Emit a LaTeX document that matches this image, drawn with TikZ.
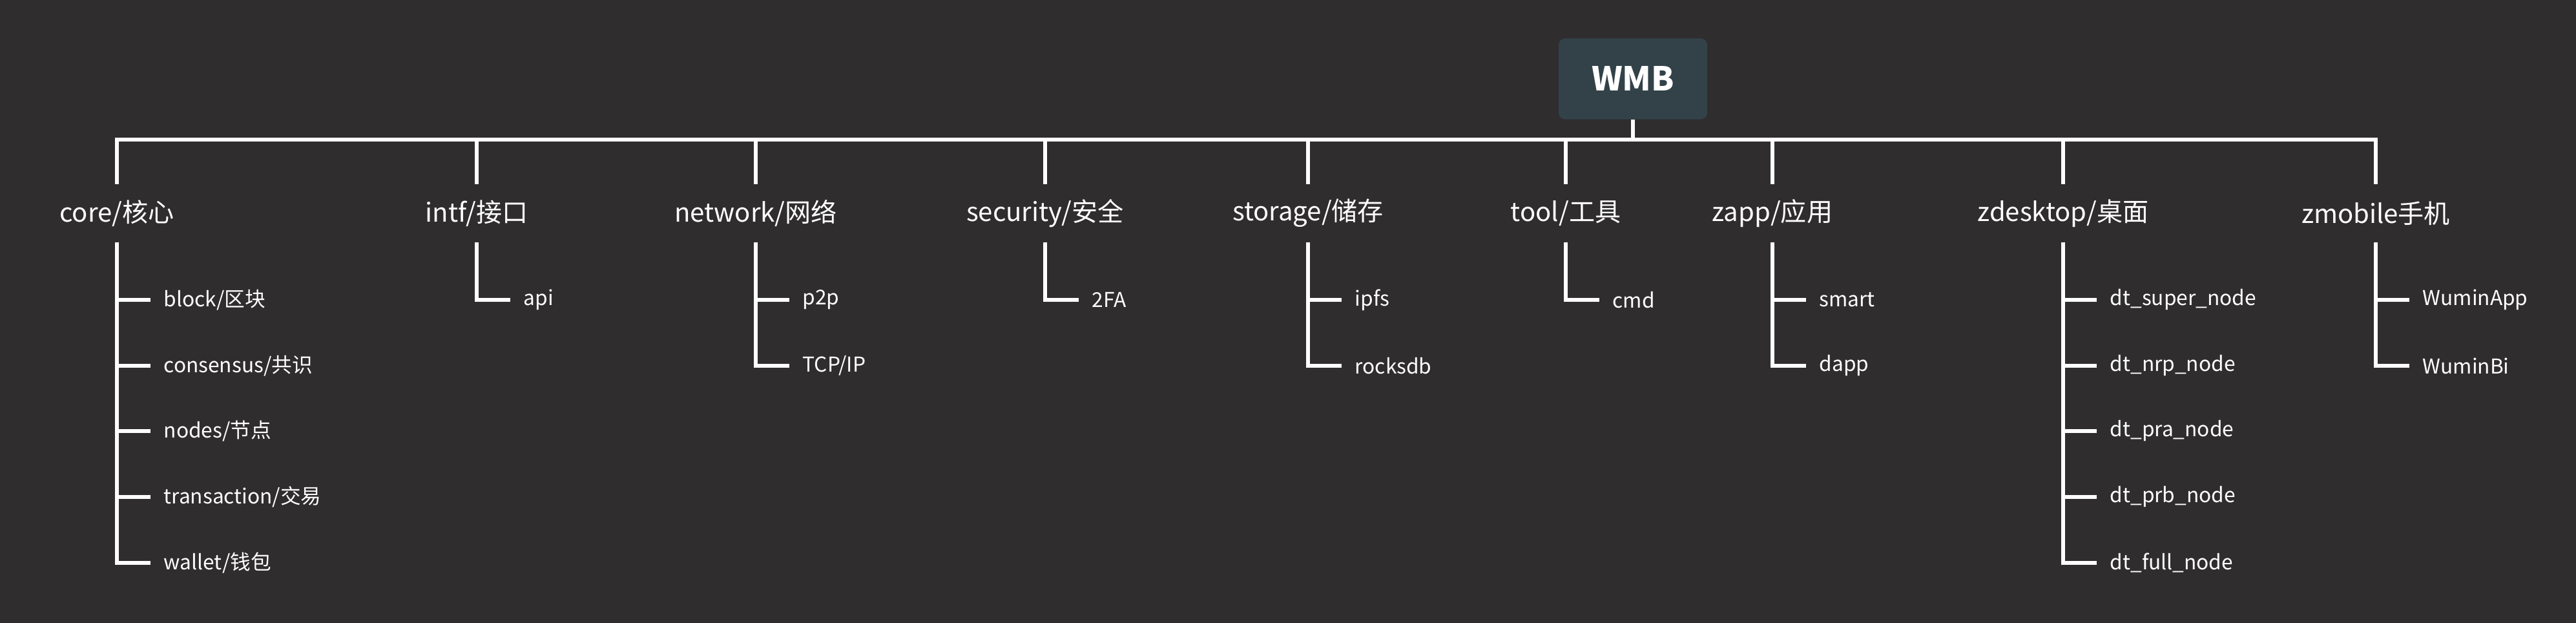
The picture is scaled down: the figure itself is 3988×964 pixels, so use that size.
\documentclass[tikz,border=0pt]{standalone}
\usepackage{fontspec}
\setmainfont{Noto Sans CJK SC}
\definecolor{bgdark}{HTML}{2F2D2E}
\definecolor{boxslate}{HTML}{334249}
\tikzset{
  branch/.style={draw=white, line width=0.06cm},
  rootbox/.style={fill=boxslate, rounded corners=0.1cm, minimum width=2.3cm, minimum height=1.25cm, text=white, font=\fontsize{14.5}{18}\selectfont\bfseries},
  topic/.style={text=white, inner sep=0pt, minimum height=0.88cm, font=\fontsize{11.4}{14}\selectfont},
  leaf/.style={text=white, anchor=west, inner ysep=0pt, inner xsep=0.2cm, font=\fontsize{9}{11}\selectfont}
}
\begin{document}
\begin{tikzpicture}[x=0.01cm, y=-0.01cm]
		\fill[bgdark] (0,0) rectangle (3988,964);
		\node[rootbox] (wmb) at (2528,122) {WMB};
		\coordinate (bar) at (0,216);
		\node[topic] (core) at (181,330) {core/核心};
		\node[topic] (intf) at (738,330) {intf/接口};
		\node[topic] (network) at (1170,330) {network/网络};
		\node[topic] (security) at (1618,330) {security/安全};
		\node[topic] (storage) at (2025,330) {storage/储存};
		\node[topic] (tool) at (2424,330) {tool/工具};
		\node[topic] (zapp) at (2744,330) {zapp/应用};
		\node[topic] (zdesktop) at (3194,330) {zdesktop/桌面};
		\node[topic] (zmobile) at (3678,330) {zmobile手机};
		\draw[branch] (wmb.south) -- (wmb.south |- bar);
		\draw[branch] (core.north) -- (core.north |- bar) -- (zmobile.north |- bar) -- (zmobile.north);
		\draw[branch] (intf.north |- bar) -- (intf.north);
		\draw[branch] (network.north |- bar) -- (network.north);
		\draw[branch] (security.north |- bar) -- (security.north);
		\draw[branch] (storage.north |- bar) -- (storage.north);
		\draw[branch] (tool.north |- bar) -- (tool.north);
		\draw[branch] (zapp.north |- bar) -- (zapp.north);
		\draw[branch] (zdesktop.north |- bar) -- (zdesktop.north);
		\node[leaf] (block) at (233,464) {block/区块};
		\node[leaf] (consensus) at (233,566) {consensus/共识};
		\node[leaf] (nodes) at (233,667) {nodes/节点};
		\node[leaf] (transaction) at (233,769) {transaction/交易};
		\node[leaf] (wallet) at (233,871) {wallet/钱包};
		\draw[branch] (core.south) |- (block.west);
		\draw[branch] (core.south) |- (consensus.west);
		\draw[branch] (core.south) |- (nodes.west);
		\draw[branch] (core.south) |- (transaction.west);
		\draw[branch] (core.south) |- (wallet.west);
		\node[leaf] (api) at (790,464) {api};
		\draw[branch] (intf.south) |- (api.west);
		\node[leaf] (ptop) at (1222,464) {p2p};
		\node[leaf] (tcpip) at (1222,566) {TCP/IP};
		\draw[branch] (network.south) |- (ptop.west);
		\draw[branch] (network.south) |- (tcpip.west);
		\node[leaf] (twofa) at (1670,464) {2FA};
		\draw[branch] (security.south) |- (twofa.west);
		\node[leaf] (ipfs) at (2077,464) {ipfs};
		\node[leaf] (rocksdb) at (2077,566) {rocksdb};
		\draw[branch] (storage.south) |- (ipfs.west);
		\draw[branch] (storage.south) |- (rocksdb.west);
		\node[leaf] (cmd) at (2476,464) {cmd};
		\draw[branch] (tool.south) |- (cmd.west);
		\node[leaf] (smart) at (2796,464) {smart};
		\node[leaf] (dapp) at (2796,566) {dapp};
		\draw[branch] (zapp.south) |- (smart.west);
		\draw[branch] (zapp.south) |- (dapp.west);
		\node[leaf] (dtsuper) at (3246,464) {dt\_super\_node};
		\node[leaf] (dtnrp) at (3246,566) {dt\_nrp\_node};
		\node[leaf] (dtpra) at (3246,667) {dt\_pra\_node};
		\node[leaf] (dtprb) at (3246,769) {dt\_prb\_node};
		\node[leaf] (dtfull) at (3246,871) {dt\_full\_node};
		\draw[branch] (zdesktop.south) |- (dtsuper.west);
		\draw[branch] (zdesktop.south) |- (dtnrp.west);
		\draw[branch] (zdesktop.south) |- (dtpra.west);
		\draw[branch] (zdesktop.south) |- (dtprb.west);
		\draw[branch] (zdesktop.south) |- (dtfull.west);
		\node[leaf] (wuminapp) at (3730,464) {WuminApp};
		\node[leaf] (wuminbi) at (3730,566) {WuminBi};
		\draw[branch] (zmobile.south) |- (wuminapp.west);
		\draw[branch] (zmobile.south) |- (wuminbi.west);
	\end{tikzpicture}
\end{document}
